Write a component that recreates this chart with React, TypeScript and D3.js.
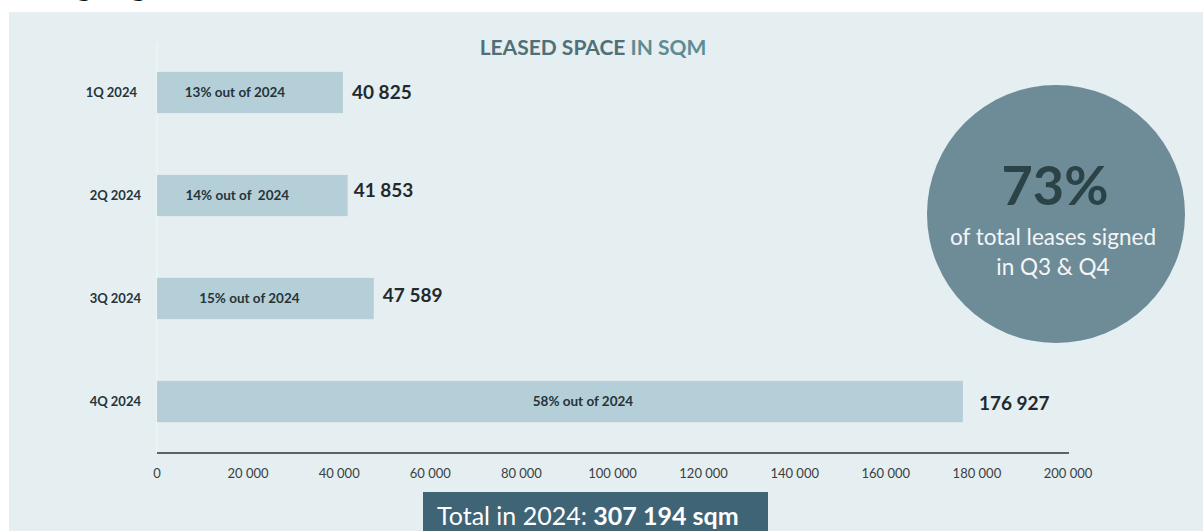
import React from "react";
import * as d3 from "d3";

const categories = ["1Q 2024", "2Q 2024", "3Q 2024", "4Q 2024"];
const values = [40825, 41853, 47589, 176927];
const valueLabels = ["40 825", "41 853", "47 589", "176 927"];
const shareLabels = ["13% out of 2024", "14% out of  2024", "15% out of 2024", "58% out of 2024"];
const xTicks = [0, 20000, 40000, 60000, 80000, 100000, 120000, 140000, 160000, 180000, 200000];
const titleParts = ["LEASED SPACE ", "IN SQM"];
const bigPercent = "73%";
const circleLines = ["of total leases signed", "in Q3 & Q4"];
const totalLabel = "Total in 2024: ";
const totalValue = "307 194 sqm";

// small per-label visual nudges (styling)
const valueDy = [0, -5, -3, 2];
const valueDx = [9, 6, 9, 16];
const shareDx = [-15, -15, -16, 23];

const W = 1203;
const H = 531;
const FONT = "Lato, 'Open Sans', sans-serif";

const fmt = (v: number) => d3.format(",")(v).replace(/,/g, " ");

export default function App() {
  const x = d3.scaleLinear().domain([0, 200000]).range([157, 1068]);
  const y = d3
    .scaleBand<string>()
    .domain(categories)
    .range([41, 453])
    .paddingInner(0.6)
    .paddingOuter(0.3);
  const bw = y.bandwidth();

  return (
    <svg
      width={W}
      height={H}
      style={{ position: "absolute", left: 0, top: 0, display: "block" }}
      fontFamily={FONT}
    >
      <rect x={0} y={0} width={W} height={H} fill="#ffffff" />
      <text x={40} y={-5} fontSize={35} fill="#111" fontFamily={FONT}>
        Highlights
      </text>
      <rect x={9} y={12} width={W - 9} height={H - 12} fill="#e5eef0" />

      {/* title */}
      <text x={593} y={55} textAnchor="middle" fontSize={21} fontWeight={700}>
        <tspan fill="#4f7079">{titleParts[0]}</tspan>
        <tspan fill="#5e8c94">{titleParts[1]}</tspan>
      </text>

      {/* faint y axis line */}
      <line x1={x(0)} x2={x(0)} y1={42} y2={453} stroke="#eef4f5" strokeWidth={1.5} />

      {/* bars */}
      {categories.map((c, i) => {
        const y0 = y(c)!;
        const cy = y0 + bw / 2;
        const x1 = x(values[i]);
        return (
          <g key={c}>
            <rect x={x(0)} y={y0} width={x1 - x(0)} height={bw} fill="#b5cfd8" />
            <text
              x={i === 0 ? 137 : 141}
              y={cy}
              dy="0.35em"
              textAnchor="end"
              fontSize={13}
              fontWeight={700}
              fill="#26343a"
            >
              {c}
            </text>
            <text
              x={(x(0) + x1) / 2 + shareDx[i]}
              y={cy}
              dy="0.35em"
              textAnchor="middle"
              fontSize={13.5}
              fontWeight={700}
              fill="#26343a"
              style={{ whiteSpace: "pre" }}
            >
              {shareLabels[i]}
            </text>
            <text
              x={x1 + valueDx[i]}
              y={cy + valueDy[i]}
              dy="0.35em"
              textAnchor="start"
              fontSize={19}
              fontWeight={700}
              fill="#1f2a2f"
            >
              {valueLabels[i] || fmt(values[i])}
            </text>
          </g>
        );
      })}

      {/* x axis */}
      <line x1={x(0)} x2={x(200000) + 1} y1={453} y2={453} stroke="#2b363b" strokeWidth={1.5} />
      {xTicks.map((t) => (
        <text
          key={t}
          x={x(t)}
          y={473}
          dy="0.35em"
          textAnchor="middle"
          fontSize={13}
          fill="#3a3f42"
        >
          {fmt(t)}
        </text>
      ))}

      {/* circle callout */}
      <circle cx={1056} cy={214} r={129} fill="#6e8b98" />
      <text x={1055} y={205} textAnchor="middle" fontSize={54} fontWeight={700} fill="#2b4247">
        {bigPercent}
      </text>
      <text x={1053} y={245} textAnchor="middle" fontSize={22.5} fill="#f2f6f7">
        {circleLines[0]}
      </text>
      <text x={1053} y={275} textAnchor="middle" fontSize={22.5} fill="#f2f6f7">
        {circleLines[1]}
      </text>

      {/* total box */}
      <rect x={423} y={492} width={345} height={40} fill="#3e6475" />
      <text x={437} y={525} fontSize={25} fill="#ffffff">
        <tspan>{totalLabel}</tspan>
        <tspan fontWeight={700}>{totalValue}</tspan>
      </text>
    </svg>
  );
}
